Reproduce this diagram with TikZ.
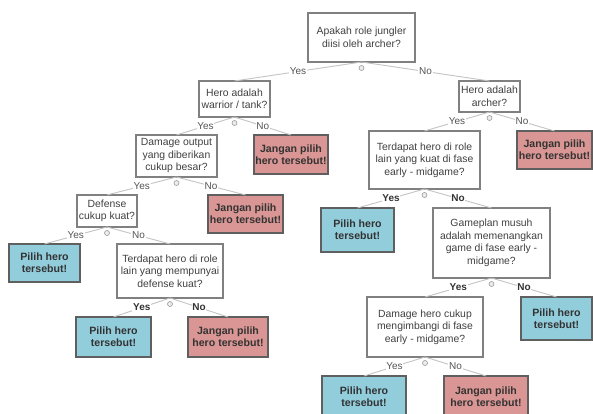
\documentclass[tikz,border=0pt]{standalone}
\usepackage{fontspec}
\setmainfont{Liberation Sans}
\definecolor{qborder}{HTML}{808080}
\definecolor{cborder}{HTML}{5F5F5F}
\definecolor{bluefill}{HTML}{92CDDC}
\definecolor{redfill}{HTML}{D99694}
\definecolor{txt}{HTML}{404040}
\definecolor{ctxt}{HTML}{333333}
\definecolor{edgec}{HTML}{C4C4C4}
\definecolor{labc}{HTML}{555555}
\begin{document}
\begin{tikzpicture}[x=1pt,y=-1pt,
  qbox/.style={draw=qborder, fill=white, line width=1.1pt, align=center, inner sep=0pt, outer sep=0pt,
    font=\fontsize{10.4}{12.5}\selectfont, text=txt, anchor=north west},
  pbox/.style={draw=cborder, fill=bluefill, line width=1.2pt, align=center, inner sep=0pt, outer sep=0pt,
    font=\bfseries\fontsize{10.6}{12}\selectfont, text=ctxt, anchor=north west},
  jbox/.style={draw=cborder, fill=redfill, line width=1.2pt, align=center, inner sep=0pt, outer sep=0pt,
    font=\bfseries\fontsize{10.6}{12}\selectfont, text=ctxt, anchor=north west},
  edge/.style={draw=edgec, line width=0.9pt},
  lab/.style={fill=white, inner sep=0.8pt, text=labc, font=\fontsize{10}{12}\selectfont},
  blab/.style={fill=white, inner sep=0.8pt, text=ctxt, font=\bfseries\fontsize{10}{12}\selectfont},
  knob/.style={circle, draw=gray!80, fill=gray!15, line width=0.6pt, inner sep=0pt, minimum size=5pt}
]
\useasboundingbox (0,0) rectangle (593,414);
\clip (0,0) rectangle (593,414);
\fill[white] (0,0) rectangle (593,414);

% nodes
\node[qbox, minimum width=107pt, minimum height=49pt] (root) at (308,13) {Apakah role jungler\\diisi oleh archer?};
\node[qbox, minimum width=71pt, minimum height=36pt] (warrior) at (199,81) {Hero adalah\\warrior / tank?};
\node[qbox, minimum width=61pt, minimum height=31pt] (archer) at (459,81) {Hero adalah\\archer?};
\node[qbox, minimum width=81pt, minimum height=42pt] (dmgout) at (136,135) {Damage output\\yang diberikan\\cukup besar?};
\node[jbox, minimum width=74pt, minimum height=39pt] (j1) at (254,135) {Jangan pilih\\hero tersebut!};
\node[qbox, minimum width=111pt, minimum height=58pt] (tkuat) at (369,131) {Terdapat hero di role\\lain yang kuat di fase\\early - midgame?};
\node[jbox, minimum width=75pt, minimum height=38pt] (j2) at (517,131) {Jangan pilih\\hero tersebut!};
\node[qbox, minimum width=60pt, minimum height=32pt] (def) at (77,195) {Defense\\cukup kuat?};
\node[jbox, minimum width=75pt, minimum height=38pt] (j3) at (208,195) {Jangan pilih\\hero tersebut!};
\node[pbox, minimum width=71pt, minimum height=38pt] (p1) at (9,244) {Pilih hero\\tersebut!};
\node[qbox, minimum width=106pt, minimum height=54pt] (tdef) at (117,244) {Terdapat hero di role\\lain yang mempunyai\\defense kuat?};
\node[pbox, minimum width=73pt, minimum height=44pt] (p2) at (321,208) {Pilih hero\\tersebut!};
\node[qbox, minimum width=117pt, minimum height=70pt] (game) at (433,208) {Gameplan musuh\\adalah memenangkan\\game di fase early -\\midgame?};
\node[pbox, minimum width=75pt, minimum height=40pt] (p3) at (76,317) {Pilih hero\\tersebut!};
\node[jbox, minimum width=80pt, minimum height=40pt] (j4) at (188,317) {Jangan pilih\\hero tersebut!};
\node[qbox, minimum width=116pt, minimum height=60pt] (dhero) at (367,297) {Damage hero cukup\\mengimbangi di fase\\early - midgame?};
\node[pbox, minimum width=71pt, minimum height=43pt] (p4) at (521,297) {Pilih hero\\tersebut!};
\node[pbox, minimum width=84pt, minimum height=42pt] (p5) at (322,376) {Pilih hero\\tersebut!};
\node[jbox, minimum width=84pt, minimum height=42pt] (j5) at (444,376) {Jangan pilih\\hero tersebut!};

% edges
\draw[edge] (root.south) -- node[lab]{Yes} (warrior.north);
\draw[edge] (root.south) -- node[lab]{No} (archer.north);
\draw[edge] (warrior.south) -- node[lab]{Yes} (dmgout.north);
\draw[edge] (warrior.south) -- node[lab]{No} (j1.north);
\draw[edge] (archer.south) -- node[lab]{Yes} (tkuat.north);
\draw[edge] (archer.south) -- node[lab]{No} (j2.north);
\draw[edge] (dmgout.south) -- node[lab]{Yes} (def.north);
\draw[edge] (dmgout.south) -- node[lab]{No} (j3.north);
\draw[edge] (def.south) -- node[lab]{Yes} (p1.north);
\draw[edge] (def.south) -- node[lab]{No} (tdef.north);
\draw[edge] (tdef.south) -- node[blab]{Yes} (p3.north);
\draw[edge] (tdef.south) -- node[blab]{No} (j4.north);
\draw[edge] (tkuat.south) -- node[blab]{Yes} (p2.north);
\draw[edge] (tkuat.south) -- node[blab]{No} (game.north);
\draw[edge] (game.south) -- node[blab]{Yes} (dhero.north);
\draw[edge] (game.south) -- node[blab]{No} (p4.north);
\draw[edge] (dhero.south) -- node[lab]{Yes} (p5.north);
\draw[edge] (dhero.south) -- node[lab]{No} (j5.north);

% collapse knobs
\foreach \n in {root,warrior,archer,dmgout,tkuat,def,tdef,game,dhero}
  \node[knob] (k\n) at ([yshift=-6pt]\n.south) {};
\end{tikzpicture}
\end{document}
